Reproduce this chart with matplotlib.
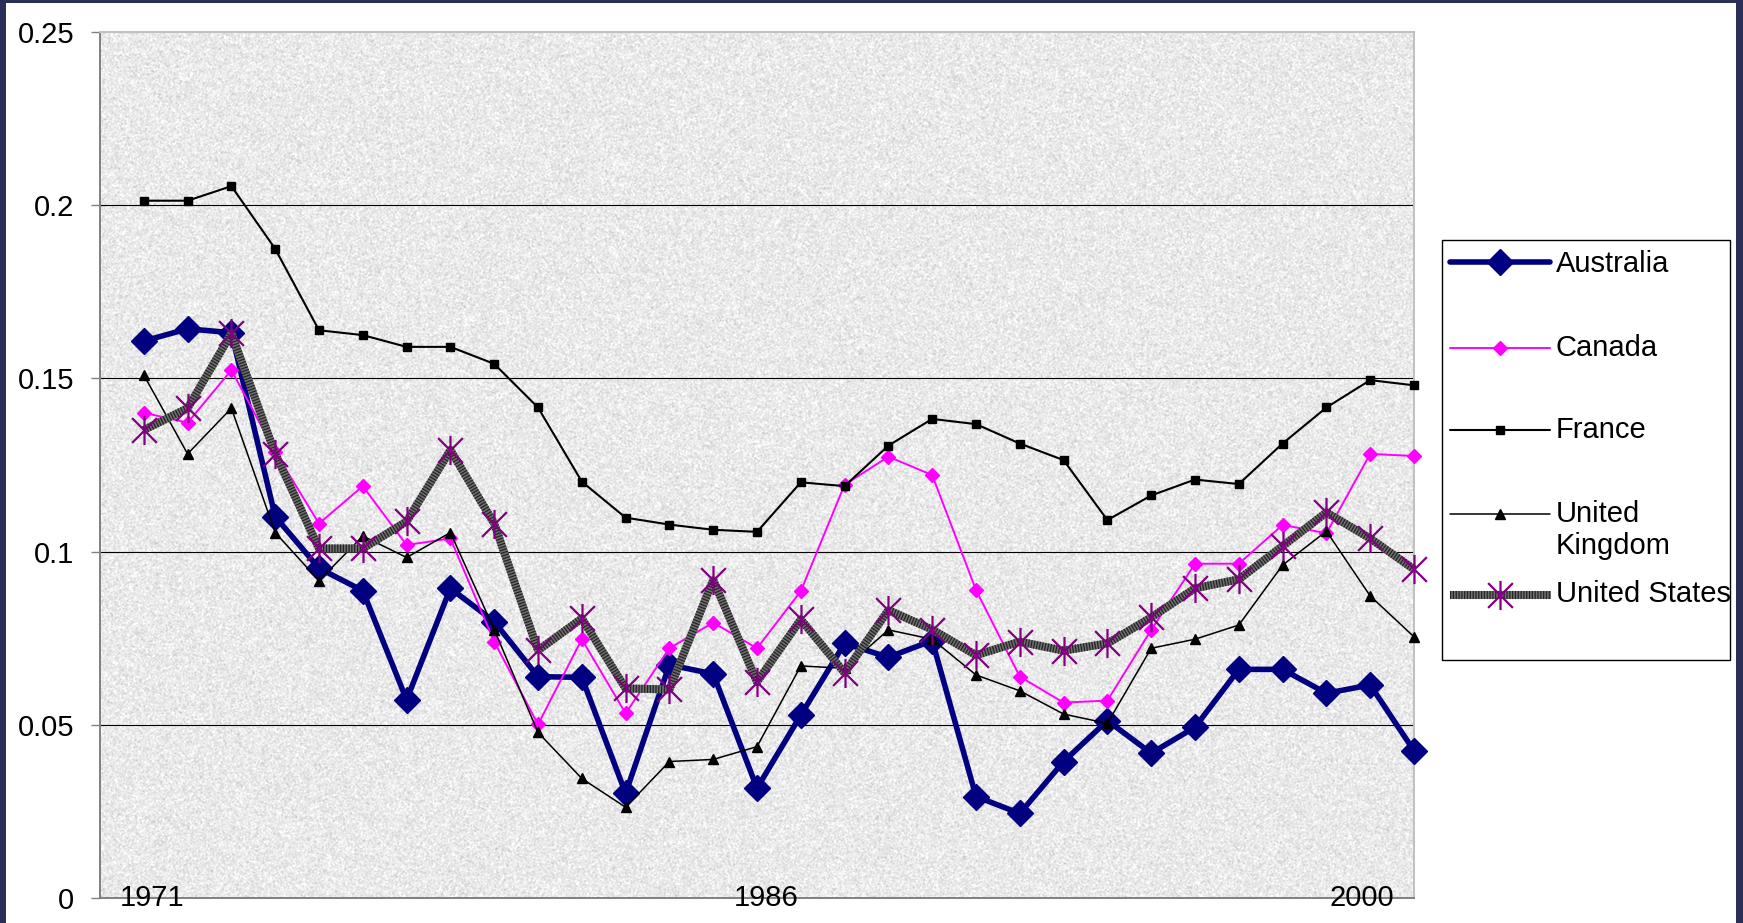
import numpy as np
import matplotlib.pyplot as plt
from matplotlib.path import Path
from matplotlib.lines import Line2D
from matplotlib.patches import Rectangle

plt.rcParams['font.family'] = ['Liberation Sans', 'DejaVu Sans']

# 数据：1971-2000 年
years = list(range(1971, 2001))

australia = [0.1608, 0.1643, 0.1632, 0.1101, 0.0952, 0.0887, 0.0572, 0.0894, 0.0798, 0.0639,
             0.0637, 0.0302, 0.0673, 0.0647, 0.0317, 0.0528, 0.0735, 0.0695, 0.0743, 0.0293,
             0.0244, 0.0394, 0.0512, 0.0418, 0.0493, 0.0660, 0.0660, 0.0591, 0.0615, 0.0425]
canada = [0.1401, 0.1372, 0.1524, 0.1288, 0.1081, 0.1189, 0.1019, 0.1038, 0.0740, 0.0501,
          0.0747, 0.0533, 0.0721, 0.0795, 0.0721, 0.0886, 0.1193, 0.1274, 0.1221, 0.0889,
          0.0639, 0.0564, 0.0570, 0.0774, 0.0965, 0.0965, 0.1077, 0.1053, 0.1282, 0.1276]
france = [0.2013, 0.2013, 0.2055, 0.1874, 0.1639, 0.1625, 0.1591, 0.1591, 0.1542, 0.1416,
          0.1202, 0.1098, 0.1078, 0.1063, 0.1057, 0.1200, 0.1189, 0.1306, 0.1383, 0.1368,
          0.1312, 0.1264, 0.1091, 0.1162, 0.1208, 0.1195, 0.1312, 0.1416, 0.1495, 0.1480]
united_kingdom = [0.1510, 0.1282, 0.1414, 0.1055, 0.0916, 0.1045, 0.0983, 0.1055, 0.0775, 0.0478,
                  0.0345, 0.0262, 0.0394, 0.0400, 0.0437, 0.0670, 0.0663, 0.0774, 0.0747, 0.0644,
                  0.0598, 0.0531, 0.0504, 0.0721, 0.0747, 0.0788, 0.0961, 0.1059, 0.0872, 0.0754]
united_states = [0.1351, 0.1414, 0.1630, 0.1283, 0.1009, 0.1009, 0.1087, 0.1293, 0.1081, 0.0715,
                 0.0807, 0.0605, 0.0602, 0.0918, 0.0624, 0.0804, 0.0650, 0.0831, 0.0775, 0.0701,
                 0.0740, 0.0714, 0.0735, 0.0810, 0.0894, 0.0920, 0.1016, 0.1113, 0.1038, 0.0949]

xtick_pos = [1971.2, 1985.2, 1998.8]
xtick_labels = ['1971', '1986', '2000']
yticks = [0, 0.05, 0.1, 0.15, 0.2, 0.25]
ytick_labels = ['0', '0.05', '0.1', '0.15', '0.2', '0.25']

W, H = 1743, 923
FS = 21

# 星号标记：竖线 + 交叉线
asterisk = Path([(0, -1), (0, 1), (-0.85, -0.85), (0.85, 0.85), (-0.85, 0.85), (0.85, -0.85)],
                [Path.MOVETO, Path.LINETO, Path.MOVETO, Path.LINETO, Path.MOVETO, Path.LINETO])

styles = {
    'Australia': dict(color='#000080', lw=4.0, marker='D', ms=13.5, mfc='#000080', mec='#000080', mew=1),
    'Canada': dict(color='#ff00ff', lw=1.4, marker='D', ms=6.8, mfc='#ff00ff', mec='#ff00ff', mew=1),
    'France': dict(color='black', lw=1.5, marker='s', ms=6.0, mfc='black', mec='black', mew=1),
    'United\nKingdom': dict(color='black', lw=1.1, marker='^', ms=7.0, mfc='black', mec='black', mew=1),
}
us_base = dict(color='#6e6e6e', lw=5.8, solid_capstyle='butt')
us_stripe = dict(color='#222222', lw=5.8, dashes=(0.15, 0.2), dash_capstyle='butt')
us_marker = dict(ls='none', marker=asterisk, ms=21, mfc='none', mec='#800080', mew=1.6)

fig = plt.figure(figsize=(W / 100, H / 100), dpi=100)
fig.patch.set_facecolor('white')

ax = fig.add_axes([100 / W, 25 / H, 1314 / W, 866 / H])

# 绘图区花岗岩纹理背景
rng = np.random.default_rng(7)
grain = rng.normal(0, 1, (866, 1314))
grain = (grain + np.roll(grain, 1, 0) + np.roll(grain, 1, 1) + np.roll(grain, (1, 1), (0, 1))) / 4
tex = np.clip(0.915 + 0.07 * grain, 0.6, 1.0)
ax.imshow(tex, cmap='gray', vmin=0, vmax=1, extent=(1970, 2000, 0, 0.25),
          aspect='auto', interpolation='nearest', zorder=0)

for v in yticks[1:-1]:
    ax.axhline(v, color='black', lw=0.8, zorder=1)

series = [('Australia', australia), ('Canada', canada), ('France', france),
          ('United\nKingdom', united_kingdom)]
for name, vals in series:
    ax.plot(years, vals, clip_on=False, zorder=3, **styles[name])

ax.plot(years, united_states, clip_on=False, zorder=3, **us_base)
ax.plot(years, united_states, clip_on=False, zorder=3, **us_stripe)
ax.plot(years, united_states, clip_on=False, zorder=3, **us_marker)

ax.set_xlim(1970, 2000)
ax.set_ylim(0, 0.25)
ax.set_yticks(yticks)
ax.set_yticklabels(ytick_labels, fontsize=FS)
ax.tick_params(axis='y', direction='out', length=6.5, width=1, color='#808080', pad=12)
ax.set_xticks([])
for x, lab in zip(xtick_pos, xtick_labels):
    ax.text(x, 0, lab, transform=ax.get_xaxis_transform(), ha='center', va='center',
            fontsize=FS, clip_on=False, zorder=5)

for side in ['left', 'bottom']:
    ax.spines[side].set_color('#808080')
    ax.spines[side].set_linewidth(1.4)
for side in ['top', 'right']:
    ax.spines[side].set_color('#c0c0c0')
    ax.spines[side].set_linewidth(1.4)

# 图例（像素坐标）
lax = fig.add_axes([0, 0, 1, 1], zorder=10)
lax.set_xlim(0, W)
lax.set_ylim(H, 0)
lax.axis('off')
lax.add_patch(Rectangle((1442, 240), 288, 420, fill=False, edgecolor='black', lw=1))

rows = [('Australia', 262, 264), ('Canada', 348, 348), ('France', 430, 430),
        ('United\nKingdom', 514, 530)]
for name, yh, yt in rows:
    st = dict(styles[name])
    lax.add_line(Line2D([1450, 1550], [yh, yh], color=st.pop('color'), lw=st.pop('lw'),
                        solid_capstyle='round'))
    lax.add_line(Line2D([1500], [yh], ls='none', **st))
    lax.text(1556, yt, name, fontsize=FS, va='center', ha='left', linespacing=1.15)

lax.add_line(Line2D([1450, 1551], [595, 595], **us_base))
lax.add_line(Line2D([1450, 1551], [595, 595], **us_stripe))
lax.add_line(Line2D([1500], [595], **us_marker))
lax.text(1556, 594, 'United States', fontsize=FS, va='center', ha='left')

# 外框深色边
navy = '#2a2f58'
for rect in [(0, 0, 6, H), (0, 0, W, 3), (W - 7, 0, 7, H)]:
    lax.add_patch(Rectangle(rect[:2], rect[2], rect[3], color=navy, lw=0, clip_on=False))

fig.savefig('out.png', dpi=100)
